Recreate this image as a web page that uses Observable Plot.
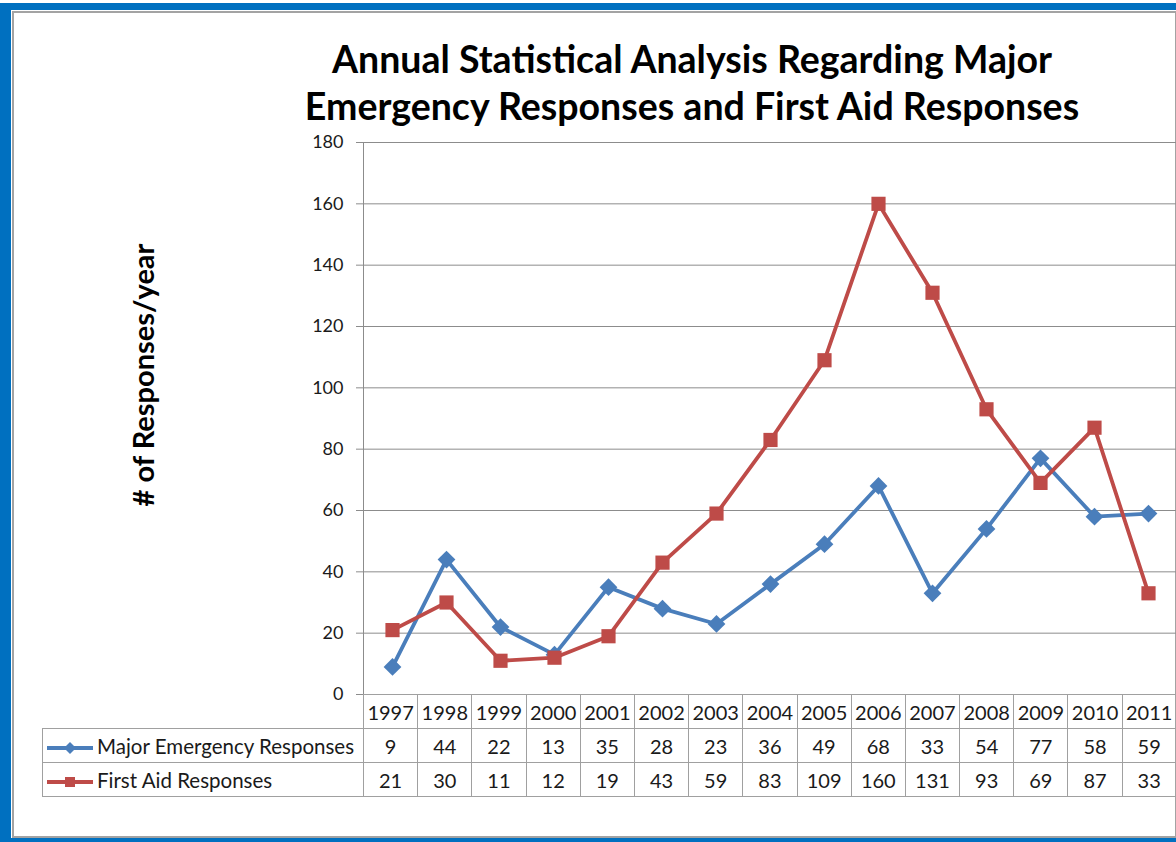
<!DOCTYPE html>
<html>
<head>
<meta charset="utf-8">
<script src="https://cdn.jsdelivr.net/npm/d3@7"></script>
<script src="https://cdn.jsdelivr.net/npm/@observablehq/plot@0.6"></script>
<style>
  html, body { margin: 0; padding: 0; background: #fff; overflow: hidden; }
  #page { position: relative; width: 1176px; height: 842px; overflow: hidden; font-family: Lato, "Open Sans", sans-serif; }
  #blue { position: absolute; left: 0; top: 3px; width: 1200px; height: 839px; background: #0070c0; }
  #white { position: absolute; left: 11px; top: 10px; width: 1200px; height: 828px; background: #fff; }
  #area { position: absolute; left: 12px; top: 11px; width: 1161px; height: 823px; border: 2px solid #a3a3a3; background: #fff; }
  #title { position: absolute; left: 0; width: 1384px; top: 35px; text-align: center; font-weight: 700; font-size: 37.5px; line-height: 47px; color: #000; }
  #ylabel { position: absolute; left: 142px; top: 375px; transform: translate(-50%, -50%) rotate(-90deg); font-weight: 700; font-size: 29px; white-space: nowrap; color: #000; }
  #chart { position: absolute; left: 0; top: 0; }
  #tbl { position: absolute; left: 42px; top: 694px; border-collapse: collapse; table-layout: fixed; font-size: 20px; color: #1a1a1a; }
  #tbl td { border: 1px solid #a0a0a0; text-align: center; height: 33px; padding: 0; white-space: nowrap; overflow: hidden; }
  #tbl td.blank { border-top: none; border-left: none; }
  #tbl td.legend { text-align: left; padding-left: 4px; font-size: 20.5px; }
  #tbl td.legend svg { vertical-align: middle; margin-right: 4px; }
</style>
</head>
<body>
<div id="page">
  <div id="blue"></div>
  <div id="white"></div>
  <div id="area"></div>
  <div id="title">Annual Statistical Analysis Regarding Major<br>Emergency Responses and First Aid Responses</div>
  <div id="ylabel"># of Responses/year</div>
  <div id="chart"></div>
  <table id="tbl"></table>
</div>
<script>
const years = ["1997","1998","1999","2000","2001","2002","2003","2004","2005","2006","2007","2008","2009","2010","2011"];
const majorEmergency = [9, 44, 22, 13, 35, 28, 23, 36, 49, 68, 33, 54, 77, 58, 59];
const firstAid = [21, 30, 11, 12, 19, 43, 59, 83, 109, 160, 131, 93, 69, 87, 33];
const seriesNames = ["Major Emergency Responses", "First Aid Responses"];
const seriesColors = ["#4a7ebb", "#be4b48"];
const yTicks = [0, 20, 40, 60, 80, 100, 120, 140, 160, 180];

const rows = [];
years.forEach((y, i) => {
  rows.push({year: y, value: majorEmergency[i], series: seriesNames[0]});
  rows.push({year: y, value: firstAid[i], series: seriesNames[1]});
});
const major = rows.filter(d => d.series === seriesNames[0]);
const aid = rows.filter(d => d.series === seriesNames[1]);

const chart = Plot.plot({
  width: 1176,
  height: 842,
  marginLeft: 363,
  marginRight: 0,
  marginTop: 142,
  marginBottom: 148,
  style: {background: "transparent", fontFamily: "Lato, 'Open Sans', sans-serif", fontSize: "18px", color: "#1a1a1a", overflow: "visible"},
  x: {type: "point", domain: years, padding: 0.5, axis: null},
  y: {domain: [0, 180], label: null},
  color: {domain: seriesNames, range: seriesColors},
  marks: [
    Plot.gridY(yTicks, {stroke: "#8c8c8c", strokeOpacity: 1, strokeWidth: 1}),
    Plot.axisY(yTicks, {tickSize: 7, tickPadding: 13, stroke: "#8c8c8c", strokeOpacity: 1, label: null, fontSize: 18}),
    Plot.frame({anchor: "left", stroke: "#8c8c8c"}),
    Plot.line(major, {x: "year", y: "value", stroke: "series", strokeWidth: 3.8}),
    Plot.dot(major, {x: "year", y: "value", fill: "series", symbol: "diamond2", r: 8}),
    Plot.line(aid, {x: "year", y: "value", stroke: "series", strokeWidth: 3.8}),
    Plot.dot(aid, {x: "year", y: "value", fill: "series", symbol: "square", r: 8})
  ]
});
document.getElementById("chart").appendChild(chart);

// data table below the plot
const tbl = document.getElementById("tbl");
const colW = 813 / years.length;
const cg = document.createElement("colgroup");
const c0 = document.createElement("col"); c0.style.width = "321px"; cg.appendChild(c0);
years.forEach(() => { const c = document.createElement("col"); c.style.width = colW + "px"; cg.appendChild(c); });
tbl.appendChild(cg);
tbl.style.width = (321 + 813) + "px";

const tr0 = document.createElement("tr");
const b = document.createElement("td"); b.className = "blank"; tr0.appendChild(b);
years.forEach(y => { const td = document.createElement("td"); td.textContent = y; tr0.appendChild(td); });
tbl.appendChild(tr0);

function legendIcon(color, shape) {
  const ns = "http://www.w3.org/2000/svg";
  const svg = document.createElementNS(ns, "svg");
  svg.setAttribute("width", 46); svg.setAttribute("height", 14);
  const l = document.createElementNS(ns, "line");
  l.setAttribute("x1", 0); l.setAttribute("x2", 46); l.setAttribute("y1", 7); l.setAttribute("y2", 7);
  l.setAttribute("stroke", color); l.setAttribute("stroke-width", 3.8);
  svg.appendChild(l);
  const p = document.createElementNS(ns, "path");
  p.setAttribute("d", shape === "diamond" ? "M23,1L29,7L23,13L17,7Z" : "M18,2H28V12H18Z");
  p.setAttribute("fill", color);
  svg.appendChild(p);
  return svg;
}

[[majorEmergency, "diamond"], [firstAid, "square"]].forEach(([vals, shape], k) => {
  const tr = document.createElement("tr");
  const lt = document.createElement("td"); lt.className = "legend";
  lt.appendChild(legendIcon(seriesColors[k], shape));
  lt.appendChild(document.createTextNode(seriesNames[k]));
  tr.appendChild(lt);
  vals.forEach(v => { const td = document.createElement("td"); td.textContent = v; tr.appendChild(td); });
  tbl.appendChild(tr);
});
</script>
</body>
</html>
